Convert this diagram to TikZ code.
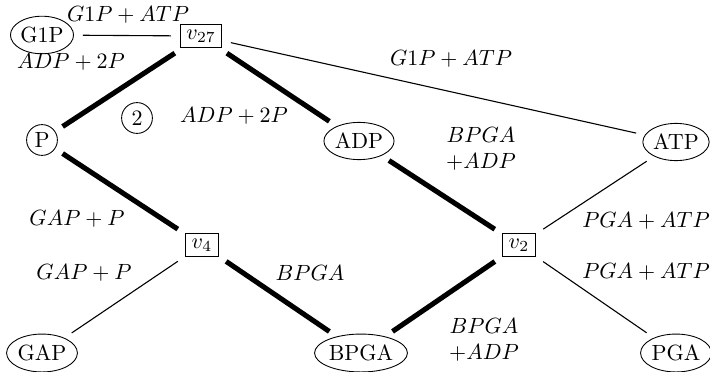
\documentclass[tikz,border=0pt]{standalone}
\usetikzlibrary{shapes.geometric}
\begin{document}
\begin{tikzpicture}[x=0.4545pt,y=-0.4545pt,
  species/.style={draw,ellipse,inner xsep=0.3pt,inner ysep=2.4pt},
  reaction/.style={draw,rectangle,inner xsep=2.8pt,inner ysep=2.5pt},
  roundnode/.style={draw,circle,inner sep=0pt,minimum size=14pt},
  lbl/.style={inner sep=0pt,align=center},
  thinedge/.style={line width=0.5pt,shorten >=4pt,shorten <=4pt},
  thickedge/.style={line width=2.3pt,shorten >=4pt,shorten <=4pt}]
\useasboundingbox (0,0) rectangle (710,371);
% nodes
\node[species] (g1p) at (42,35) {G1P};
\node[reaction] (v27) at (201,36) {$v_{27}$};
\node[roundnode] (p) at (42,140) {P};
\node[species] (adp) at (359,141) {ADP};
\node[species] (atp) at (676,142) {ATP};
\node[reaction] (v4) at (202,245) {$v_4$};
\node[reaction] (v2) at (519,245) {$v_2$};
\node[species] (gap) at (42,353) {GAP};
\node[species] (bpga) at (361,353) {BPGA};
\node[species] (pga) at (676,353) {PGA};
\node[roundnode] (two) at (137,118) {2};
% edges
\draw[thinedge] (g1p) -- (v27);
\draw[thinedge] (v27) -- (atp);
\draw[thinedge] (atp) -- (v2);
\draw[thinedge] (v2) -- (pga);
\draw[thinedge] (v4) -- (gap);
\draw[thickedge] (v27) -- (p);
\draw[thickedge] (v27) -- (adp);
\draw[thickedge] (p) -- (v4);
\draw[thickedge] (v4) -- (bpga);
\draw[thickedge] (adp) -- (v2);
\draw[thickedge] (v2) -- (bpga);
% labels
\node[lbl] (l1) at (128,15) {$G1P+ATP$};
\node[lbl] (l2) at (71,62) {$ADP+2P$};
\node[lbl] (l3) at (234,116) {$ADP+2P$};
\node[lbl] (l4) at (451,59) {$G1P+ATP$};
\node[lbl] (l5) at (481,149) {$BPGA$\\$+ADP$};
\node[lbl] (l6) at (77,219) {$GAP+P$};
\node[lbl] (l7) at (84,273) {$GAP+P$};
\node[lbl] (l8) at (310,273) {$BPGA$};
\node[lbl] (l9) at (646,221) {$PGA+ATP$};
\node[lbl] (l10) at (646,272) {$PGA+ATP$};
\node[lbl] (l11) at (484,340) {$BPGA$\\$+ADP$};
\end{tikzpicture}
\end{document}
